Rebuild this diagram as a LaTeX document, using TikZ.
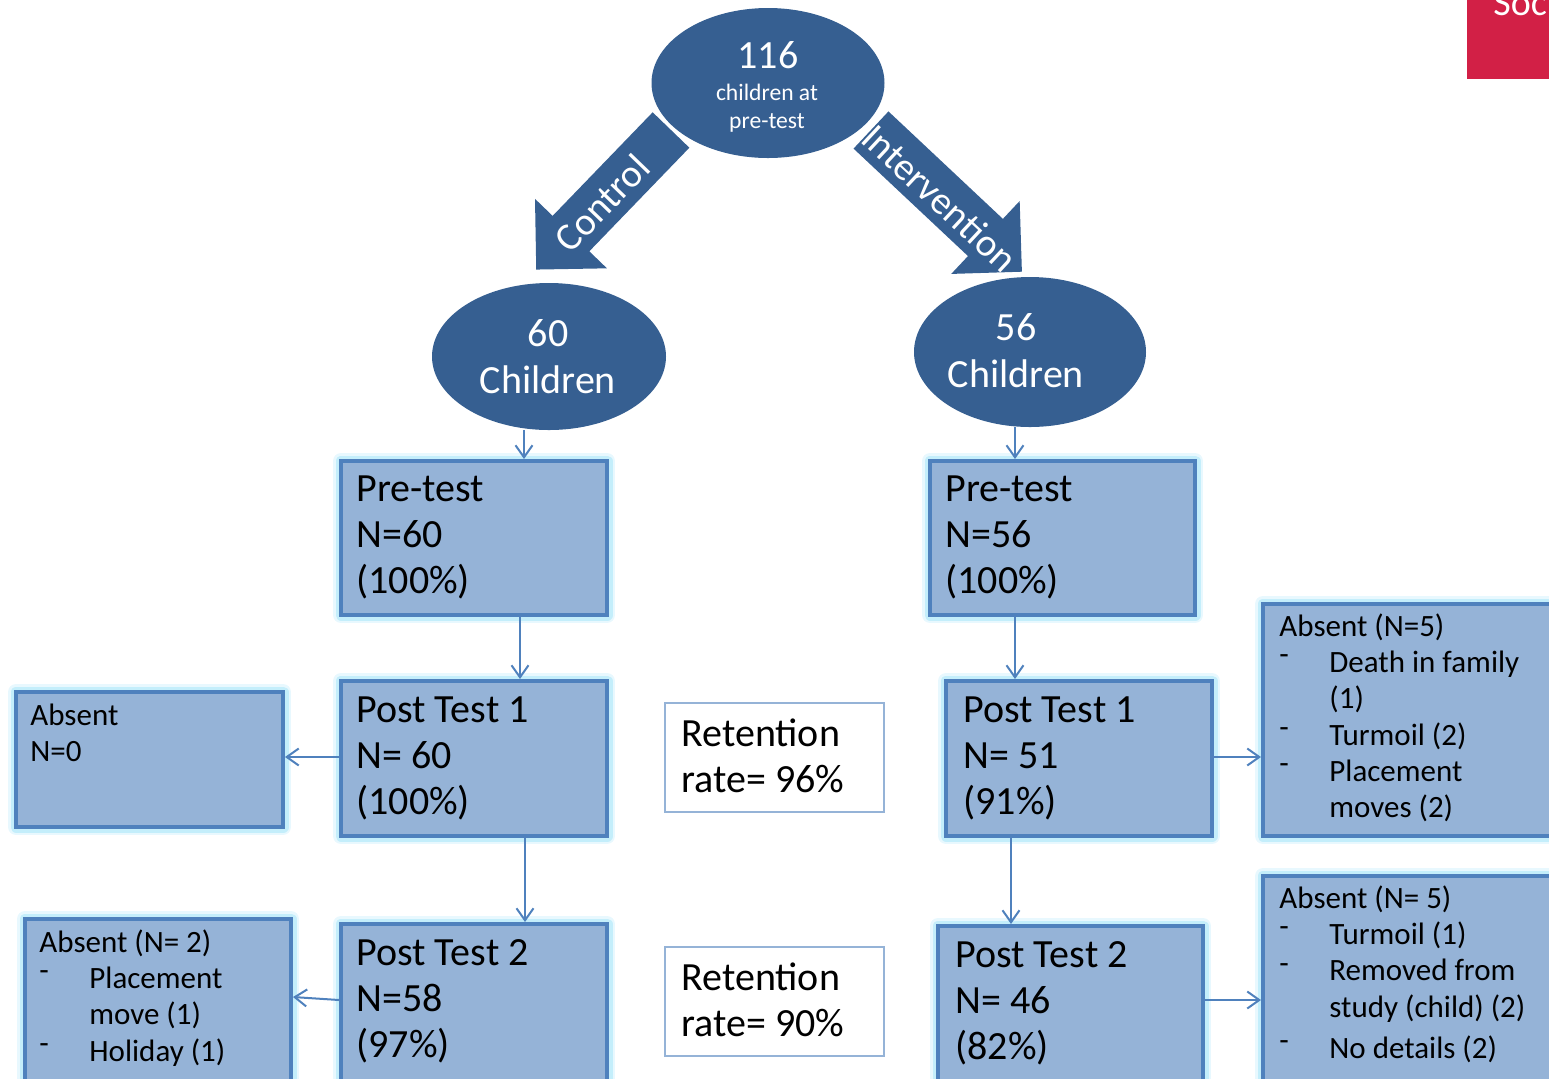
\documentclass[tikz,border=0pt]{standalone}
\usepackage{fontspec}
\setmainfont{Carlito}
\usetikzlibrary{arrows.meta,shapes.geometric}
\definecolor{dkblue}{RGB}{54,95,145}
\definecolor{boxfill}{RGB}{149,179,215}
\definecolor{boxline}{RGB}{79,129,189}
\definecolor{glowA}{RGB}{196,238,251}
\definecolor{glowB}{RGB}{232,248,254}
\definecolor{retline}{RGB}{149,179,215}
\definecolor{crimson}{RGB}{210,32,70}
\newcommand{\firststrut}{\rule{0pt}{1em}}
\newcommand{\dashitem}[1]{\makebox[25pt][l]{\raisebox{0.25em}{-}}#1}
\newcommand{\indentline}[1]{\hspace*{25pt}#1}
\begin{document}
\begin{tikzpicture}[x=0.5pt,y=-0.5pt,
  box/.style={rectangle, draw=boxline, line width=2pt, fill=boxfill, inner sep=0pt, anchor=north west,
    preaction={draw=glowB, line width=8pt, line join=round},
    preaction={draw=glowA, line width=5.5pt, line join=round}},
  retbox/.style={rectangle, draw=retline, line width=1pt, fill=white, inner sep=0pt, anchor=north west},
  ell/.style={ellipse, fill=dkblue, draw=none, inner sep=0pt},
  bigtxt/.style={anchor=north west, inner sep=0pt, align=left, font=\fontsize{20pt}{23pt}\selectfont},
  smltxt/.style={anchor=north west, inner sep=0pt, align=left, font=\fontsize{15.5pt}{18.1pt}\selectfont},
  whitetxt/.style={text=white, inner sep=0pt, anchor=base, font=\fontsize{20pt}{24pt}\selectfont},
  arrtxt/.style={text=white, inner sep=0pt, font=\fontsize{19.5pt}{24pt}\selectfont},
  conn/.style={draw=boxline, line width=1pt, -{Straight Barb[length=6pt,width=8.5pt]}}
]
\useasboundingbox (0,0) rectangle (1549,1078);
\clip (0,0) rectangle (1549,1078);

% red corner
\fill[crimson] (1467,0) rectangle (1560,79);
\node[text=white, anchor=base west, inner sep=0pt, font=\fontsize{19pt}{22pt}\selectfont] (soc) at (1493,15) {Social};

% block arrows
\begin{scope}[shift={(671,130)}, rotate=-134]
  \fill[dkblue] (0,-25.5) -- (144,-25.5) -- (144,-50) -- (194,0) -- (144,50) -- (144,25.5) -- (0,25.5) -- cycle;
\end{scope}
\begin{scope}[shift={(871,130)}, rotate=-43.2]
  \fill[dkblue] (0,-25.5) -- (157,-25.5) -- (157,-50) -- (207,0) -- (157,50) -- (157,25.5) -- (0,25.5) -- cycle;
\end{scope}

% ellipses
\node[ell, minimum width=116.5pt, minimum height=75pt] (top) at (768,83) {};
\node[ell, minimum width=117pt, minimum height=73.5pt] (lell) at (549,356.5) {};
\node[ell, minimum width=116pt, minimum height=75pt] (rell) at (1030,352) {};
\node[whitetxt] (topA) at (768,68) {116};
\node[whitetxt, font=\fontsize{11.8pt}{14pt}\selectfont] (topB) at (767,100) {children at};
\node[whitetxt, font=\fontsize{11.8pt}{14pt}\selectfont] (topC) at (767,128) {pre-test};
\node[whitetxt] (lellA) at (548,346) {60};
\node[whitetxt] (lellB) at (548,393) {Children};
\node[whitetxt] (rellA) at (1016,340) {56};
\node[whitetxt] (rellB) at (1016,387) {Children};

% arrow labels
\node[arrtxt, rotate=46] (ctl) at (602,203) {Control};
\node[arrtxt, rotate=-43] (itv) at (940,198) {Intervention};

% boxes
\node[box, minimum width=133pt, minimum height=77pt] (prel) at (339,459) {};
\node[box, minimum width=132.5pt, minimum height=77pt] (prer) at (928,459) {};
\node[box, minimum width=133pt, minimum height=77.5pt] (pt1l) at (339,679) {};
\node[box, minimum width=133pt, minimum height=77.5pt] (pt1r) at (944,679) {};
\node[box, minimum width=133.5pt, minimum height=67.5pt] (ab0) at (14,690) {};
\node[box, minimum width=150pt, minimum height=116pt] (ab5a) at (1261,602) {};
\node[box, minimum width=133pt, minimum height=100pt] (pt2l) at (339,922) {};
\node[box, minimum width=132.5pt, minimum height=100pt] (pt2r) at (936,924) {};
\node[box, minimum width=133pt, minimum height=100pt] (ab2) at (23,917) {};
\node[box, minimum width=150pt, minimum height=125pt] (ab5b) at (1261,874) {};
\node[retbox, minimum width=109.5pt, minimum height=54.5pt] (ret1) at (664,702) {};
\node[retbox, minimum width=109.5pt, minimum height=54.5pt] (ret2) at (664,946) {};

% texts
\node[bigtxt] (prelT) at (356,461) {\firststrut Pre-test\\N=60\\(100\%)};
\node[bigtxt] (prerT) at (945,461) {\firststrut Pre-test\\N=56\\(100\%)};
\node[bigtxt] (pt1lT) at (356,682) {\firststrut Post Test 1\\N= 60\\(100\%)};
\node[bigtxt] (pt1rT) at (963,682) {\firststrut Post Test 1\\N= 51\\(91\%)};
\node[bigtxt] (pt2lT) at (356,925) {\firststrut Post Test 2\\N=58\\(97\%)};
\node[bigtxt] (pt2rT) at (955,927) {\firststrut Post Test 2\\N= 46\\(82\%)};
\node[bigtxt] (ret1T) at (681,706) {\firststrut Retention\\rate= 96\%};
\node[bigtxt] (ret2T) at (681,950) {\firststrut Retention\\rate= 90\%};
\node[smltxt] (ab0T) at (30,694) {\firststrut Absent\\N=0};
\node[smltxt] (ab5aT) at (1279,605) {\firststrut Absent (N=5)\\\dashitem{Death in family}\\\indentline{(1)}\\\dashitem{Turmoil (2)}\\\dashitem{Placement}\\\indentline{moves (2)}};
\node[smltxt] (ab2T) at (39,921) {\firststrut Absent (N= 2)\\\dashitem{Placement}\\\indentline{move (1)}\\\dashitem{Holiday (1)}};
\node[smltxt] (ab5bT) at (1279,877) {\firststrut Absent (N= 5)\\\dashitem{Turmoil (1)}\\\dashitem{Removed from}\\\indentline{study (child) (2)}\\[2.5pt]\dashitem{No details (2)}};

% connectors
\draw[conn] (524,0 |- lell.south) -- (524,0 |- prel.north);
\draw[conn] (1015,0 |- rell.south) -- (1015,0 |- prer.north);
\draw[conn] (520,0 |- prel.south) -- (520,0 |- pt1l.north);
\draw[conn] (1015,0 |- prer.south) -- (1015,0 |- pt1r.north);
\draw[conn] (525,0 |- pt1l.south) -- (525,0 |- pt2l.north);
\draw[conn] (1011,0 |- pt1r.south) -- (1011,0 |- pt2r.north);
\draw[conn] (pt1l.west |- 0,757) -- (ab0.east |- 0,757);
\draw[conn] (pt1r.east |- 0,757) -- (ab5a.west |- 0,757);
\draw[conn] (pt2l.west |- 0,1000) -- (ab2.east |- 0,997);
\draw[conn] (pt2r.east |- 0,1000) -- (ab5b.west |- 0,1000);
\end{tikzpicture}
\end{document}
